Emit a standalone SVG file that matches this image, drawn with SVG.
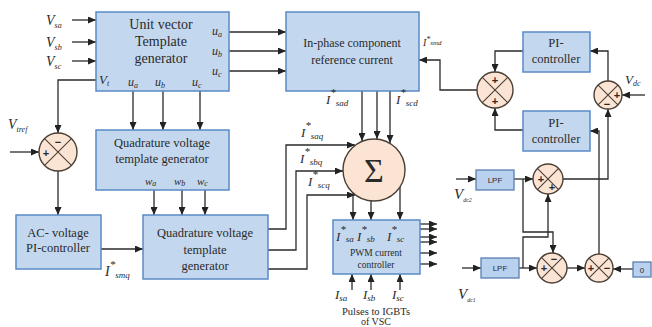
<svg xmlns="http://www.w3.org/2000/svg" width="652" height="327" viewBox="0 0 652 327">
<style>
.box{fill:#c3d8ef;stroke:#5a8ac6;stroke-width:1.5}
.sbox{fill:#b9d1ee;stroke:#5a7fb0;stroke-width:1.3}
.circ{fill:#fbe4d4;stroke:#4a3f35;stroke-width:1.4}
.x{stroke:#4a3f35;stroke-width:1.1;fill:none}
.w{fill:none;stroke:#2a2a2a;stroke-width:1.3}
.t{font-family:"Liberation Serif",serif;fill:#2a2a2a;text-anchor:middle}
.l{font-family:"Liberation Serif",serif;font-style:italic;fill:#2a2a2a}
.sub{font-size:8px}
.sg{font-family:"Liberation Sans",sans-serif;font-weight:bold;fill:#2a2a2a;text-anchor:middle;font-size:11px}
.lpf{font-family:"Liberation Sans",sans-serif;fill:#2a2a2a;text-anchor:middle;font-size:8px}
</style>
<defs>
<marker id="a" markerUnits="userSpaceOnUse" markerWidth="8" markerHeight="7" refX="8" refY="3.5" orient="auto"><path d="M0,0 L8,3.5 L0,7 z" fill="#222"/></marker>
</defs>
<rect width="652" height="327" fill="#ffffff"/>

<g id="connectors" class="w" marker-end="url(#a)">
<path d="M72,20 H96"/>
<path d="M72,42 H96"/>
<path d="M72,61 H96"/>
<path d="M229,32 H286"/>
<path d="M229,51 H286"/>
<path d="M229,71 H286"/>
<path d="M96,80 H58 V133"/>
<path d="M133,91 V130"/>
<path d="M163,91 V130"/>
<path d="M200,91 V130"/>
<path d="M10,152 H39"/>
<path d="M58,171 V215"/>
<path d="M154,190 V215"/>
<path d="M182,190 V215"/>
<path d="M205,190 V215"/>
<path d="M101,249 H143"/>
<path d="M268,229 H286 V145 H355"/>
<path d="M268,250 H296 V171 H343"/>
<path d="M268,269 H307 V195 H355"/>
<path d="M362,91 V141"/>
<path d="M377,91 V139"/>
<path d="M390,91 V143"/>
<path d="M353,193 V220"/>
<path d="M371,201 V220"/>
<path d="M400,187 V220"/>
<path d="M420,224 H437"/>
<path d="M420,229 H437"/>
<path d="M420,237 H437"/>
<path d="M420,242 H437"/>
<path d="M420,253 H437"/>
<path d="M420,264 H437"/>
<path d="M352,290 V274"/>
<path d="M371,290 V274"/>
<path d="M400,290 V274"/>
<path d="M477,90 H440 V60 H419"/>
<path d="M523,51 H495 V72"/>
<path d="M523,130 H495 V108"/>
<path d="M608,81 V51 H590"/>
<path d="M645,95 H622"/>
<path d="M563,179 H608 V109"/>
<path d="M599,254 V131 H590"/>
<path d="M456,179 H476"/>
<path d="M514,179 H533"/>
<path d="M462,268 H481"/>
<path d="M519,268 H537"/>
<path d="M523,179 V232 H553 V253"/>
<path d="M523,268 V237 H548 V194"/>
<path d="M567,268 H585"/>
<path d="M633,269 H613"/>
</g>

<g id="unit-vector">
<rect class="box" x="96" y="12" width="133" height="79"/>
<text class="t" x="161" y="29" font-size="14">Unit vector</text>
<text class="t" x="161" y="46" font-size="14">Template</text>
<text class="t" x="161" y="63" font-size="14">generator</text>
<text class="l" x="212" y="35" font-size="12">u<tspan class="sub" dy="2">a</tspan></text>
<text class="l" x="212" y="55" font-size="12">u<tspan class="sub" dy="2">b</tspan></text>
<text class="l" x="212" y="75" font-size="12">u<tspan class="sub" dy="2">c</tspan></text>
<text class="l" x="99" y="84" font-size="13">V<tspan class="sub" dy="2">t</tspan></text>
<text class="l" x="128" y="86" font-size="12">u<tspan class="sub" dy="2">a</tspan></text>
<text class="l" x="155" y="86" font-size="12">u<tspan class="sub" dy="2">b</tspan></text>
<text class="l" x="192" y="86" font-size="12">u<tspan class="sub" dy="2">c</tspan></text>
</g>

<g id="inputs-vs">
<text class="l" x="46" y="25" font-size="14">V<tspan class="sub" dy="3" font-size="9">sa</tspan></text>
<text class="l" x="46" y="47" font-size="14">V<tspan class="sub" dy="3" font-size="9">sb</tspan></text>
<text class="l" x="46" y="66" font-size="14">V<tspan class="sub" dy="3" font-size="9">sc</tspan></text>
<text class="l" x="8" y="129" font-size="14">V<tspan class="sub" dy="3" font-size="9">tref</tspan></text>
</g>

<g id="inphase">
<rect class="box" x="286" y="12" width="133" height="79"/>
<text class="t" x="352" y="47" font-size="12">In-phase component</text>
<text class="t" x="352" y="64" font-size="12">reference current</text>
</g>

<g id="pi-upper">
<rect class="box" x="523" y="32" width="67" height="40"/>
<text class="t" x="556" y="47" font-size="12.5">PI-</text>
<text class="t" x="556" y="63" font-size="12.5">controller</text>
</g>
<g id="pi-lower">
<rect class="box" x="523" y="111" width="67" height="40"/>
<text class="t" x="556" y="127" font-size="12.5">PI-</text>
<text class="t" x="556" y="143" font-size="12.5">controller</text>
</g>

<g id="sum-idc">
<circle class="circ" cx="495" cy="90" r="18"/>
<path class="x" d="M482.3,77.3 L507.7,102.7 M507.7,77.3 L482.3,102.7"/>
<text class="sg" x="495" y="84">+</text>
<text class="sg" x="495" y="105">+</text>
</g>
<g id="sum-vdc">
<circle class="circ" cx="608" cy="95" r="14"/>
<path class="x" d="M598.1,85.1 L617.9,104.9 M617.9,85.1 L598.1,104.9"/>
<text class="sg" x="617" y="99">+</text>
<text class="sg" x="607" y="108">−</text>
<text class="l" x="625" y="84" font-size="13">V<tspan class="sub" dy="2">dc</tspan></text>
</g>

<text class="l" x="423" y="46" font-size="10">I<tspan dy="-4" font-size="8">*</tspan><tspan dy="3" font-size="7">smd</tspan></text>

<g id="sum-vt">
<circle class="circ" cx="58" cy="152" r="19"/>
<path class="x" d="M44.6,138.6 L71.4,165.4 M71.4,138.6 L44.6,165.4"/>
<text class="sg" x="58" y="146">−</text>
<text class="sg" x="46" y="157">+</text>
</g>

<g id="quad-upper">
<rect class="box" x="96" y="130" width="133" height="60"/>
<text class="t" x="162" y="147" font-size="12.5">Quadrature voltage</text>
<text class="t" x="162" y="163" font-size="12.5">template generator</text>
<text class="l" x="145" y="185" font-size="11">w<tspan class="sub" dy="1">a</tspan></text>
<text class="l" x="174" y="185" font-size="11">w<tspan class="sub" dy="1">b</tspan></text>
<text class="l" x="197" y="185" font-size="11">w<tspan class="sub" dy="1">c</tspan></text>
</g>

<g id="ac-pi">
<rect class="box" x="16" y="215" width="85" height="54"/>
<text class="t" x="58" y="237" font-size="12.5">AC- voltage</text>
<text class="t" x="58" y="252" font-size="12.5">PI-controller</text>
<text class="l" x="105" y="276" font-size="14">I<tspan dy="-8" font-size="11">*</tspan><tspan dy="10" font-size="9">smq</tspan></text>
</g>

<g id="quad-lower">
<rect class="box" x="143" y="215" width="125" height="64"/>
<text class="t" x="205" y="237" font-size="12.5">Quadrature voltage</text>
<text class="t" x="205" y="254" font-size="12.5">template</text>
<text class="t" x="205" y="270" font-size="12.5">generator</text>
</g>

<g id="sigma">
<circle class="circ" cx="374" cy="170" r="31"/>
<text class="t" x="374" y="182" font-size="34">Σ</text>
<text class="l" x="326" y="104" font-size="13">I<tspan dy="-8" font-size="11">*</tspan><tspan dy="10" font-size="9">sad</tspan></text>
<text class="l" x="396" y="104" font-size="13">I<tspan dy="-8" font-size="11">*</tspan><tspan dy="10" font-size="9">scd</tspan></text>
<text class="l" x="301" y="137" font-size="13">I<tspan dy="-8" font-size="11">*</tspan><tspan dy="10" font-size="9">saq</tspan></text>
<text class="l" x="300" y="163" font-size="13">I<tspan dy="-8" font-size="11">*</tspan><tspan dy="10" font-size="9">sbq</tspan></text>
<text class="l" x="308" y="186" font-size="13">I<tspan dy="-8" font-size="11">*</tspan><tspan dy="10" font-size="9">scq</tspan></text>
</g>

<g id="pwm">
<rect class="box" x="333" y="220" width="87" height="54"/>
<text class="l" x="336" y="241" font-size="13">I<tspan dy="-8" font-size="11">*</tspan><tspan dy="9" font-size="9">sa</tspan></text>
<text class="l" x="357" y="241" font-size="13">I<tspan dy="-8" font-size="11">*</tspan><tspan dy="9" font-size="9">sb</tspan></text>
<text class="l" x="387" y="241" font-size="13">I<tspan dy="-8" font-size="11">*</tspan><tspan dy="9" font-size="9">sc</tspan></text>
<text class="t" x="376" y="256" font-size="9.5">PWM current</text>
<text class="t" x="376" y="268" font-size="9.5">controller</text>
<text class="l" x="335" y="299" font-size="13">I<tspan dy="1.5" font-size="9">sa</tspan></text>
<text class="l" x="363" y="299" font-size="13">I<tspan dy="1.5" font-size="9">sb</tspan></text>
<text class="l" x="392" y="299" font-size="13">I<tspan dy="1.5" font-size="9">sc</tspan></text>
<text class="t" x="376" y="315" font-size="10.5">Pulses to IGBTs</text>
<text class="t" x="376" y="325" font-size="10">of VSC</text>
</g>

<g id="lpf-upper">
<rect class="sbox" x="476" y="170" width="38" height="20"/>
<text class="lpf" x="495" y="183">LPF</text>
<text class="l" x="454" y="199" font-size="15">V<tspan dy="3" font-size="6">dc2</tspan></text>
</g>
<g id="lpf-lower">
<rect class="sbox" x="481" y="258" width="38" height="20"/>
<text class="lpf" x="500" y="271">LPF</text>
<text class="l" x="458" y="299" font-size="15">V<tspan dy="3" font-size="6">dc1</tspan></text>
</g>

<g id="sum-pp">
<circle class="circ" cx="548" cy="179" r="15"/>
<path class="x" d="M537.4,168.4 L558.6,189.6 M558.6,168.4 L537.4,189.6"/>
<text class="sg" x="541" y="183">+</text>
<text class="sg" x="552" y="191">+</text>
</g>
<g id="sum-mp">
<circle class="circ" cx="552" cy="268" r="15"/>
<path class="x" d="M541.4,257.4 L562.6,278.6 M562.6,257.4 L541.4,278.6"/>
<text class="sg" x="544" y="272">+</text>
<text class="sg" x="554" y="263">−</text>
</g>
<g id="sum-pm">
<circle class="circ" cx="599" cy="268" r="14"/>
<path class="x" d="M589.1,258.1 L608.9,277.9 M608.9,258.1 L589.1,277.9"/>
<text class="sg" x="591" y="272">+</text>
<text class="sg" x="607" y="272">−</text>
</g>
<g id="zero">
<rect class="sbox" x="633" y="262" width="18" height="15"/>
<text class="lpf" x="642" y="273" font-size="11">0</text>
</g>
</svg>
